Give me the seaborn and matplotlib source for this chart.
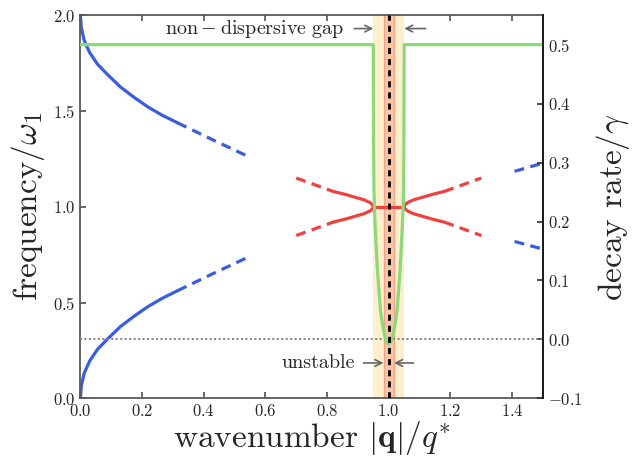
import matplotlib
matplotlib.use("Agg")
import matplotlib.pyplot as plt
import seaborn as sns

# --- values ---
# blue branches (frequency), solid part near q = 0
q_blue = [0.0, 0.003, 0.012, 0.03, 0.055, 0.088, 0.13, 0.175, 0.22, 0.265, 0.315]
w_blue_low = [0.0, 0.065, 0.13, 0.195, 0.255, 0.31, 0.375, 0.43, 0.48, 0.522, 0.562]
w_blue_up = [2.0, 1.935, 1.87, 1.805, 1.745, 1.69, 1.625, 1.57, 1.52, 1.478, 1.438]
# blue dashed continuations
q_blue_dash = [0.315, 0.435, 0.553]
w_blue_dash_low = [0.562, 0.655, 0.744]
w_blue_dash_up = [1.438, 1.345, 1.256]
q_blue_dash_r = [1.408, 1.5]
w_blue_dash_r_low = [0.819, 0.779]
w_blue_dash_r_up = [1.185, 1.228]

# red branches around q = q*
q_red_l = [0.82, 0.86, 0.89, 0.92, 0.94, 0.948, 0.95]
w_red_l_up = [1.080, 1.064, 1.050, 1.036, 1.021, 1.009, 1.0]
w_red_l_low = [0.920, 0.936, 0.950, 0.964, 0.979, 0.991, 1.0]
q_red_r = [1.05, 1.052, 1.06, 1.08, 1.11, 1.14, 1.18]
w_red_r_up = [1.0, 1.009, 1.021, 1.036, 1.050, 1.064, 1.080]
w_red_r_low = [1.0, 0.991, 0.979, 0.964, 0.950, 0.936, 0.920]
q_red_flat = [0.95, 1.05]
w_red_flat = [1.0, 1.0]
q_red_dash_l = [0.70, 0.82]
w_red_dash_l_up = [1.150, 1.080]
w_red_dash_l_low = [0.850, 0.920]
q_red_dash_r = [1.18, 1.30]
w_red_dash_r_up = [1.080, 1.150]
w_red_dash_r_low = [0.920, 0.850]

# green decay rate (right axis)
q_green = [0.0, 0.95, 0.9505, 0.951, 0.952, 0.9535, 0.9555, 0.9585, 0.963, 0.968,
           0.973, 0.979, 0.985, 0.992, 1.0, 1.008, 1.015, 1.021, 1.027, 1.032,
           1.037, 1.0415, 1.0445, 1.0465, 1.048, 1.049, 1.0495, 1.05, 1.5]
g_green = [0.5, 0.5, 0.4, 0.32, 0.253, 0.225, 0.197, 0.165, 0.12, 0.084,
           0.05, 0.028, 0.010, -0.003, -0.008, -0.003, 0.010, 0.028, 0.05, 0.084,
           0.12, 0.165, 0.197, 0.225, 0.253, 0.32, 0.4, 0.5, 0.5]

gap_band = (0.95, 1.05)
unstable_band = (0.983, 1.017)

sns.set_theme(style="ticks")
plt.rcParams["font.family"] = ["cmr10", "DejaVu Serif"]
plt.rcParams["mathtext.fontset"] = "cm"
plt.rcParams["axes.formatter.use_mathtext"] = True

blue = "#3a5ce0"
red = "#f0403f"
green = "#8cd97a"

fig, ax = plt.subplots(figsize=(6.38, 4.59), dpi=100)
fig.subplots_adjust(left=0.126, right=0.851, top=0.967, bottom=0.132)
ax2 = ax.twinx()

ax.axvspan(*gap_band, facecolor="#fdefcb", edgecolor="none", zorder=0)
ax.axvspan(*unstable_band, facecolor="#f6c6a6", edgecolor="#f0a48c", lw=1, zorder=0)

def line(axis, x, y, c, dashed=False):
    ls = (0, (3.1, 2.0)) if dashed else "-"
    sns.lineplot(x=x, y=y, ax=axis, color=c, lw=2.3, linestyle=ls,
                 estimator=None, sort=False)

line(ax, q_blue, w_blue_low, blue)
line(ax, q_blue, w_blue_up, blue)
line(ax, q_blue_dash, w_blue_dash_low, blue, True)
line(ax, q_blue_dash, w_blue_dash_up, blue, True)
line(ax, q_blue_dash_r, w_blue_dash_r_low, blue, True)
line(ax, q_blue_dash_r, w_blue_dash_r_up, blue, True)

line(ax, q_red_l, w_red_l_up, red)
line(ax, q_red_l, w_red_l_low, red)
line(ax, q_red_r, w_red_r_up, red)
line(ax, q_red_r, w_red_r_low, red)
line(ax, q_red_flat, w_red_flat, red)
line(ax, q_red_dash_l, w_red_dash_l_up, red, True)
line(ax, q_red_dash_l, w_red_dash_l_low, red, True)
line(ax, q_red_dash_r, w_red_dash_r_up, red, True)
line(ax, q_red_dash_r, w_red_dash_r_low, red, True)

ax2.axhline(0.0, color="0.5", lw=1.4, ls=(0, (1, 1.3)), zorder=1)
line(ax2, q_green, g_green, green)
ax2.axvline(1.0, color="black", lw=2.0, ls=(0, (2.2, 1.8)), zorder=5)

ax.set_xlim(0, 1.5)
ax.set_ylim(0, 2.0)
ax2.set_ylim(-0.1, 0.55)
ax.set_xticks([0.0, 0.2, 0.4, 0.6, 0.8, 1.0, 1.2, 1.4])
ax.set_yticks([0.0, 0.5, 1.0, 1.5, 2.0])
ax2.set_yticks([-0.1, 0.0, 0.1, 0.2, 0.3, 0.4, 0.5])

ax.set_xlabel(r"wavenumber $|\mathbf{q}|/q^{*}$", fontsize=24, labelpad=0)
ax.set_ylabel(r"frequency/$\omega_1$", fontsize=24, labelpad=4)
ax2.set_ylabel(r"decay rate/$\gamma$", fontsize=24, labelpad=8)

ax.tick_params(direction="in", top=True, right=False, labelsize=12, length=4,
               color="0.35")
ax2.tick_params(direction="in", labelsize=12, length=4, color="0.2")
for s in ["left", "bottom", "top"]:
    ax.spines[s].set_color("0.35")
    ax.spines[s].set_linewidth(1.3)
for s in ["left", "bottom", "top"]:
    ax2.spines[s].set_visible(False)
ax2.spines["right"].set_color("0.1")
ax2.spines["right"].set_linewidth(1.3)
ax.grid(False)
ax2.grid(False)

arr = dict(arrowstyle="->", color="0.4", lw=1.2, shrinkA=0, shrinkB=0)
ax.annotate("", xy=(0.95, 1.93), xytext=(0.888, 1.93), arrowprops=arr)
ax.annotate("", xy=(1.05, 1.93), xytext=(1.12, 1.93), arrowprops=arr)
ax.text(0.856, 1.93, r"$\mathrm{non-dispersive\ gap}$", fontsize=14.5,
        ha="right", va="center")
ax.annotate("", xy=(0.983, 0.185), xytext=(0.918, 0.185), arrowprops=arr)
ax.annotate("", xy=(1.017, 0.185), xytext=(1.08, 0.185), arrowprops=arr)
ax.text(0.892, 0.185, "unstable", fontsize=14.5, ha="right", va="center")

fig.savefig("out.png", dpi=100)
